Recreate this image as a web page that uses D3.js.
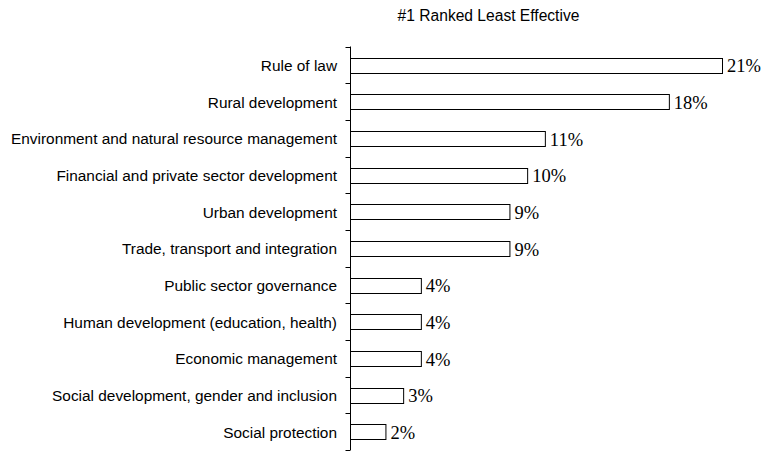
<!DOCTYPE html>
<html>
<head>
<meta charset="utf-8">
<script src="https://cdn.jsdelivr.net/npm/d3@7"></script>
<style>
  html, body { margin: 0; padding: 0; background: #fff; }
  svg { display: block; }
</style>
</head>
<body>
<svg id="chart" width="763" height="451"></svg>
<script>
const title = "#1 Ranked Least Effective";
const categories = [
  "Rule of law",
  "Rural development",
  "Environment and natural resource management",
  "Financial and private sector development",
  "Urban development",
  "Trade, transport and integration",
  "Public sector governance",
  "Human development (education, health)",
  "Economic management",
  "Social development, gender and inclusion",
  "Social protection"
];
const values = [21, 18, 11, 10, 9, 9, 4, 4, 4, 3, 2];
const valueLabels = ["21%", "18%", "11%", "10%", "9%", "9%", "4%", "4%", "4%", "3%", "2%"];

const svg = d3.select("#chart");
const axisX = 350.5;
const plotTop = 46.5, plotBottom = 450;

const x = d3.scaleLinear().domain([0, 21]).range([axisX, 722.5]);
const y = d3.scaleBand().domain(categories).range([plotTop, plotBottom]).paddingInner(0.6).paddingOuter(0.3);
const yb = d3.scaleBand().domain(categories).range([plotTop, plotBottom]);

svg.append("text")
  .attr("x", 488.5).attr("y", 20.5)
  .attr("text-anchor", "middle")
  .attr("font-family", "Liberation Sans, Arial, sans-serif")
  .attr("font-size", 15.6)
  .attr("fill", "#000")
  .text(title);

// axis line and ticks at band boundaries
const g = svg.append("g");
g.append("line")
  .attr("x1", axisX).attr("x2", axisX)
  .attr("y1", plotTop).attr("y2", plotBottom)
  .attr("stroke", "#000").attr("stroke-width", 1);
const tickYs = categories.map(c => yb(c)).concat([plotBottom - 0.5]);
g.selectAll("line.tick").data(tickYs).join("line")
  .attr("class", "tick")
  .attr("x1", axisX - 5).attr("x2", axisX)
  .attr("y1", d => Math.round(d) + 0.5).attr("y2", d => Math.round(d) + 0.5)
  .attr("stroke", "#000").attr("stroke-width", 1);

// bars
svg.selectAll("rect.bar").data(categories).join("rect")
  .attr("class", "bar")
  .attr("x", axisX)
  .attr("y", (c) => Math.round(y(c)) + 0.5)
  .attr("width", (c, i) => x(values[i]) - axisX)
  .attr("height", Math.round(y.bandwidth()))
  .attr("fill", "#fff")
  .attr("stroke", "#000")
  .attr("stroke-width", 1);

// category labels
svg.selectAll("text.cat").data(categories).join("text")
  .attr("class", "cat")
  .attr("x", 337)
  .attr("y", c => y(c) + y.bandwidth() / 2)
  .attr("dy", "0.4em")
  .attr("text-anchor", "end")
  .attr("font-family", "Liberation Sans, Arial, sans-serif")
  .attr("font-size", 15.4)
  .attr("fill", "#000")
  .text(c => c);

// value labels
svg.selectAll("text.val").data(categories).join("text")
  .attr("class", "val")
  .attr("x", (c, i) => x(values[i]) + 4.5)
  .attr("y", c => y(c) + y.bandwidth() / 2)
  .attr("dy", "0.4em")
  .attr("font-family", "Liberation Serif, Times New Roman, serif")
  .attr("font-size", 18.5)
  .attr("fill", "#000")
  .text((c, i) => valueLabels[i]);
</script>
</body>
</html>
